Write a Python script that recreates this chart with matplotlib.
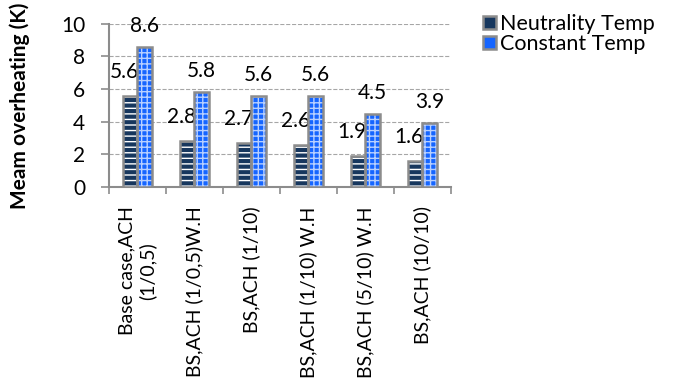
import matplotlib.pyplot as plt
from matplotlib.patches import Patch
import numpy as np

plt.rcParams['font.family'] = ['Lato', 'DejaVu Sans']
plt.rcParams['hatch.linewidth'] = 1.0

# data
cases = ['Base case,ACH\n(1/0,5)', 'BS,ACH (1/0,5)W.H', 'BS,ACH (1/10)',
         'BS,ACH (1/10) W.H', 'BS,ACH (5/10) W.H', 'BS,ACH (10/10)']
neutral = [5.6, 2.8, 2.7, 2.6, 1.9, 1.6]
constant = [8.6, 5.8, 5.6, 5.6, 4.5, 3.9]

dark = '#17375e'
blue = '#1565ff'
edge = '#8c8c8c'

fig = plt.figure(figsize=(6.76, 3.84), dpi=100)
ax = fig.add_axes([0.161, 0.513, 0.506, 0.425])

x = np.arange(len(cases))
w = 0.25

# patterned fills (hatch in white), then a grey outline on top
ax.bar(x - w/2, neutral, w, color=dark, hatch='---', edgecolor='white', linewidth=0, zorder=3)
ax.bar(x + w/2, constant, w, color=blue, hatch='+++', edgecolor='#b8d0ff', linewidth=0, zorder=3)
ax.bar(x - w/2, neutral, w, facecolor='none', edgecolor=edge, linewidth=1.8, zorder=4)
ax.bar(x + w/2, constant, w, facecolor='none', edgecolor=edge, linewidth=1.8, zorder=4)

for xi, v in zip(x, neutral):
    ax.annotate(f'{v:.1f}', (xi - w/2, v), xytext=(-6, 24), textcoords='offset pixels',
                ha='center', va='center', fontsize=15)
for xi, v in zip(x, constant):
    ax.annotate(f'{v:.1f}', (xi + w/2, v), xytext=(0, 21), textcoords='offset pixels',
                ha='center', va='center', fontsize=15, annotation_clip=False)

ax.set_xlim(-0.5, len(cases) - 0.5)
ax.set_ylim(0, 10)
ax.set_yticks(range(0, 11, 2))
ax.tick_params(axis='y', labelsize=15, length=6, width=1.2, color=edge, pad=11)
ax.set_xticks(np.arange(-0.5, len(cases), 1.0))
ax.set_xticklabels([])
ax.set_xticks(x, minor=True)
ax.set_xticklabels(cases, minor=True, rotation=90, fontsize=14, va='top', ha='center',
                   multialignment='center')
ax.tick_params(axis='x', which='major', length=5, width=1.2, color=edge)
ax.tick_params(axis='x', which='minor', length=0, pad=14)

ax.yaxis.grid(True, linestyle='--', color='#a6a6a6', linewidth=0.8, zorder=0)
ax.set_axisbelow(True)
for s in ['top', 'right']:
    ax.spines[s].set_visible(False)
for s in ['left', 'bottom']:
    ax.spines[s].set_color(edge)
    ax.spines[s].set_linewidth(1.5)

ax.set_ylabel('Meam overheating (K)', fontsize=15, fontweight='bold', labelpad=22)

handles = [Patch(facecolor=dark, edgecolor=edge, linewidth=1.8),
           Patch(facecolor=blue, edgecolor=edge, linewidth=1.8)]
fig.legend(handles, ['Neutrality Temp', 'Constant Temp'], loc='upper left',
           bbox_to_anchor=(0.69, 1.005), frameon=False, fontsize=15.5, borderpad=0.25,
           handlelength=0.6, handleheight=0.6, handletextpad=0.2, labelspacing=0.0)

fig.savefig('out.png', dpi=100)
